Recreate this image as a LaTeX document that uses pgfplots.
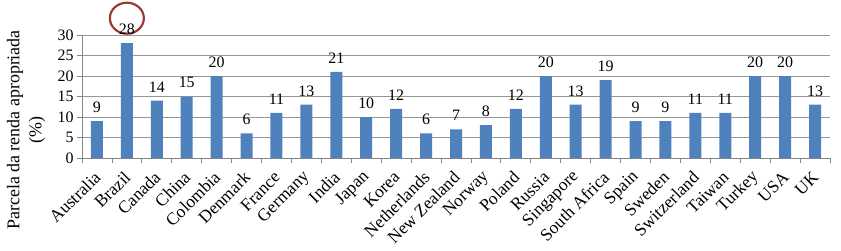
\documentclass[border=0pt]{standalone}
\usepackage{pgfplots}
\pgfplotsset{compat=1.18}
\usepackage{fontspec}
\setmainfont{Liberation Serif}
\definecolor{barblue}{HTML}{4F81BD}
\definecolor{gridgray}{HTML}{969696}
\definecolor{axisgray}{HTML}{868686}
\definecolor{circred}{HTML}{993A33}
\begin{document}
\begin{tikzpicture}
\begin{axis}[
  name=ax,
  scale only axis,
  width=748bp, height=123bp,
  xmin=-0.5, xmax=24.5,
  ymin=0, ymax=30,
  ytick={0,5,...,30},
  clip=false,
  axis x line*=bottom, axis y line*=left,
  axis line style={axisgray, line width=0.8pt, -},
  ymajorgrids, grid style={gridgray, line width=0.75pt},
  xtick={0,...,24},
  xticklabels={Australia,Brazil,Canada,China,Colombia,Denmark,France,Germany,India,Japan,Korea,Netherlands,New Zealand,Norway,Poland,Russia,Singapore,South Africa,Spain,Sweden,Switzerland,Taiwan,Turkey,USA,UK},
  minor xtick={-0.5,0.5,...,24.5},
  major x tick style={draw=none},
  tick align=outside,
  major tick length=5bp, minor tick length=5bp,
  tick style={axisgray, line width=0.8pt},
  yticklabel style={font=\fontsize{16}{19}\selectfont},
  /pgf/number format/assume math mode=true,
  xticklabel style={font=\fontsize{17.5}{20}\selectfont, anchor=east, xshift=3bp, yshift=-9bp, rotate=45},
  ylabel={Parcela da renda apropriada\\(\%)},
  ylabel style={align=center, font=\fontsize{18}{22}\selectfont, at={([xshift=-56bp]axis description cs:0,0.228)}, anchor=center},
  ybar, bar width=12bp,
  nodes near coords,
  every node near coord/.append style={font=\fontsize{16}{19}\selectfont, yshift=5bp, black},
]
\addplot[fill=barblue, draw=none] coordinates {
(0,9) (1,28) (2,14) (3,15) (4,20) (5,6) (6,11) (7,13) (8,21) (9,10) (10,12) (11,6) (12,7) (13,8) (14,12) (15,20) (16,13) (17,19) (18,9) (19,9) (20,11) (21,11) (22,20) (23,20) (24,13)
};
\draw[circred, line width=2.2pt] ([yshift=25bp]axis cs:1,28) ellipse [x radius=17bp, y radius=15.5bp];
\end{axis}
\pgfresetboundingbox
\path ([shift={(-82bp,-93bp)}]ax.south west) rectangle ([shift={(11bp,35bp)}]ax.north east);
\end{tikzpicture}
\end{document}
